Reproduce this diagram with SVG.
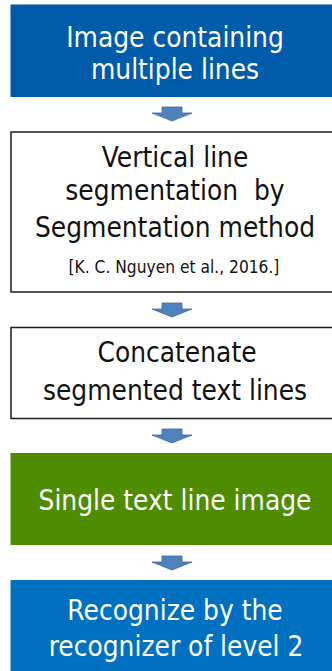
<svg xmlns="http://www.w3.org/2000/svg" width="332" height="671" viewBox="0 0 332 671">
  <style>
    .lbl { font-family: "DejaVu Sans", Verdana, sans-serif; font-size: 25px; text-anchor: middle; }
    .light { fill: #ffffff; }
    .dark { fill: #111111; }
    .cite { font-size: 15.5px; }
    .outline { fill: #ffffff; stroke: #1a1a1a; stroke-width: 1.5; }
    .arrow { fill: #4F81BD; stroke: #3A6AA3; stroke-width: 0.8; }
  </style>
  <defs>
    <!-- block arrow pointing down, centred on x=0, tip at y=14 -->
    <path id="down" d="M -10 0 H 10 V 6 H 20 L 0 14 L -20 6 H -10 Z"/>
  </defs>
  <rect width="332" height="671" fill="#ffffff"/>

  <g id="connectors">
    <use href="#down" class="arrow" x="172" y="107"/>
    <use href="#down" class="arrow" x="172" y="303"/>
    <use href="#down" class="arrow" x="172" y="429"/>
    <use href="#down" class="arrow" x="172" y="556"/>
  </g>

  <!-- labels are stretched slightly upward for a taller, narrower face -->
  <g id="input-image">
    <rect x="10.5" y="4.5" width="340" height="92.5" fill="#005BAA"/>
    <text class="lbl light" transform="translate(175,46.5) scale(1,1.1)">Image containing</text>
    <text class="lbl light" transform="translate(175,79) scale(1,1.1)">multiple lines</text>
  </g>

  <g id="line-segmentation">
    <rect class="outline" x="11" y="132" width="340" height="160"/>
    <text class="lbl dark" transform="translate(175,167) scale(1,1.1)">Vertical line</text>
    <text class="lbl dark" transform="translate(175,200) scale(1,1.1)" xml:space="preserve">segmentation  by</text>
    <text class="lbl dark" transform="translate(175,236.5) scale(1,1.1)">Segmentation method</text>
    <text class="lbl dark cite" transform="translate(174,273) scale(1,1.1)">[K. C. Nguyen et al., 2016.]</text>
  </g>

  <g id="concatenate">
    <rect class="outline" x="11" y="327.5" width="340" height="91"/>
    <text class="lbl dark" transform="translate(177,361.5) scale(1,1.1)">Concatenate</text>
    <text class="lbl dark" transform="translate(175,400) scale(1,1.1)">segmented text lines</text>
  </g>

  <g id="single-line">
    <rect x="10.5" y="453" width="340" height="92" fill="#4E8C00"/>
    <text class="lbl light" transform="translate(175,510) scale(1,1.1)">Single text line image</text>
  </g>

  <g id="recognizer">
    <rect x="10.5" y="580" width="340" height="100" fill="#0070C0"/>
    <text class="lbl light" transform="translate(175,620) scale(1,1.1)">Recognize by the</text>
    <text class="lbl light" transform="translate(176,655.5) scale(1,1.1)">recognizer of level 2</text>
  </g>
</svg>
